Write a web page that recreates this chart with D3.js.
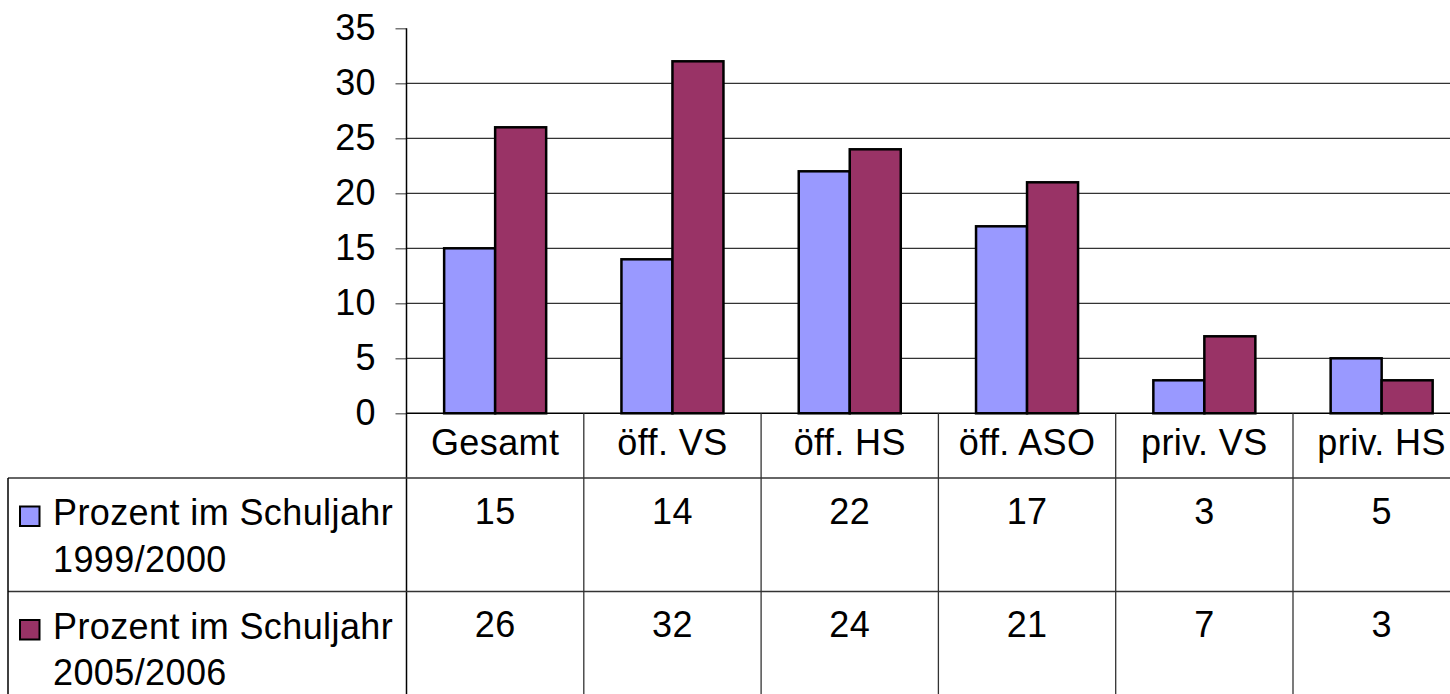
<!DOCTYPE html>
<html>
<head>
<meta charset="utf-8">
<script src="https://cdn.jsdelivr.net/npm/d3@7"></script>
<style>
  body { margin: 0; background: #fff; }
  svg { display: block; font-family: "Liberation Sans", Arial, sans-serif; }
  .axis-text, .cell-text { font-size: 36px; fill: #000; letter-spacing: 0.4px; }
</style>
</head>
<body>
<div id="chart"></div>
<script>
// chart data
const categories = ['Gesamt', 'öff. VS', 'öff. HS', 'öff. ASO', 'priv. VS', 'priv. HS'];
const seriesNames = ['Prozent im Schuljahr 1999/2000', 'Prozent im Schuljahr 2005/2006'];
const values1999 = [15, 14, 22, 17, 3, 5];
const values2005 = [26, 32, 24, 21, 7, 3];
const yTicks = [0, 5, 10, 15, 20, 25, 30, 35];
const colors = ['#9999FF', '#993366'];

const width = 1450, height = 694;
const plotLeft = 406.5, plotTop = 28.3, zeroY = 413.3;
const step = 177.3;
const headerBottom = 478, rowH = 113.5, tableLeft = 8;

const series = [values1999, values2005];

const svg = d3.select('#chart')
  .append('svg')
  .attr('width', width)
  .attr('height', height);

const x = d3.scaleBand()
  .domain(categories)
  .range([plotLeft, plotLeft + step * categories.length])
  .paddingInner(0)
  .paddingOuter(0);

const xInner = d3.scaleBand()
  .domain(d3.range(series.length))
  .range([0, x.bandwidth()])
  .paddingInner(0)
  .paddingOuter(0.738);

const y = d3.scaleLinear()
  .domain([0, 35])
  .range([zeroY, plotTop]);

// horizontal grid lines
svg.selectAll('line.horizontalGrid')
  .data(yTicks.filter(d => d > 0 && d < 35))
  .enter().append('line')
  .attr('class', 'horizontalGrid')
  .attr('x1', plotLeft)
  .attr('x2', width)
  .attr('y1', d => y(d))
  .attr('y2', d => y(d))
  .attr('stroke', '#333')
  .attr('stroke-width', 1.2);

// y axis
const axisY = svg.append('g')
  .attr('transform', 'translate(' + plotLeft + ',0)')
  .call(d3.axisLeft(y).tickValues(yTicks).tickSize(11).tickPadding(19.5).tickSizeOuter(0));

axisY.select('path.domain').remove();
axisY.selectAll('g.tick line')
  .attr('stroke', '#555')
  .attr('stroke-width', 1.2);
axisY.selectAll('g.tick text')
  .attr('class', 'axis-text')
  .attr('font-size', null)
  .attr('font-family', null);

// bars
const barGroup = svg.selectAll('.bar-group')
  .data(categories)
  .enter().append('g')
  .attr('class', 'bar-group')
  .attr('transform', d => 'translate(' + x(d) + ',0)');

barGroup.selectAll('rect.bar')
  .data((d, i) => series.map((s, k) => ({k: k, v: s[i]})))
  .enter().append('rect')
  .attr('class', 'bar')
  .attr('x', d => xInner(d.k))
  .attr('y', d => y(d.v))
  .attr('width', xInner.bandwidth())
  .attr('height', d => zeroY - y(d.v))
  .attr('fill', d => colors[d.k])
  .attr('stroke', '#000')
  .attr('stroke-width', 2.5);

// zero line (top of data table)
svg.append('line')
  .attr('x1', plotLeft).attr('x2', width)
  .attr('y1', zeroY).attr('y2', zeroY)
  .attr('stroke', '#000').attr('stroke-width', 1.5);

// vertical axis line running through the table
svg.append('line')
  .attr('x1', plotLeft).attr('x2', plotLeft)
  .attr('y1', plotTop).attr('y2', height)
  .attr('stroke', '#000').attr('stroke-width', 1.5);

// data table grid
const table = svg.append('g').attr('class', 'data-table');

table.selectAll('line.col-sep')
  .data(categories.slice(1))
  .enter().append('line')
  .attr('class', 'col-sep')
  .attr('x1', d => x(d)).attr('x2', d => x(d))
  .attr('y1', zeroY).attr('y2', height)
  .attr('stroke', '#333').attr('stroke-width', 1.3);

[headerBottom, headerBottom + rowH].forEach(ly => {
  table.append('line')
    .attr('x1', tableLeft).attr('x2', width)
    .attr('y1', ly).attr('y2', ly)
    .attr('stroke', '#333').attr('stroke-width', 1.3);
});

table.append('line')
  .attr('x1', tableLeft).attr('x2', tableLeft)
  .attr('y1', headerBottom).attr('y2', height)
  .attr('stroke', '#000').attr('stroke-width', 1.5);

// category labels
table.selectAll('text.cat')
  .data(categories)
  .enter().append('text')
  .attr('class', 'cell-text cat')
  .attr('x', d => x(d) + x.bandwidth() / 2)
  .attr('y', 455)
  .attr('text-anchor', 'middle')
  .text(d => d);

// value cells and legend keys
series.forEach((s, k) => {
  const rowTop = headerBottom + k * rowH;

  table.selectAll('text.val' + k)
    .data(s)
    .enter().append('text')
    .attr('class', 'cell-text val' + k)
    .attr('x', (d, i) => x(categories[i]) + x.bandwidth() / 2)
    .attr('y', rowTop + 45.5)
    .attr('text-anchor', 'middle')
    .text(d => d);

  table.append('rect')
    .attr('x', 20)
    .attr('y', rowTop + 28.5)
    .attr('width', 19.5)
    .attr('height', 19.5)
    .attr('fill', colors[k])
    .attr('stroke', '#000')
    .attr('stroke-width', 2);

  const words = seriesNames[k].split(' ');
  const label = table.append('text')
    .attr('class', 'cell-text')
    .attr('x', 53)
    .attr('y', rowTop + 47);
  label.append('tspan').text(words.slice(0, 3).join(' '));
  label.append('tspan')
    .attr('x', 53)
    .attr('dy', 46.7)
    .text(words.slice(3).join(' '));
});
</script>
</body>
</html>
